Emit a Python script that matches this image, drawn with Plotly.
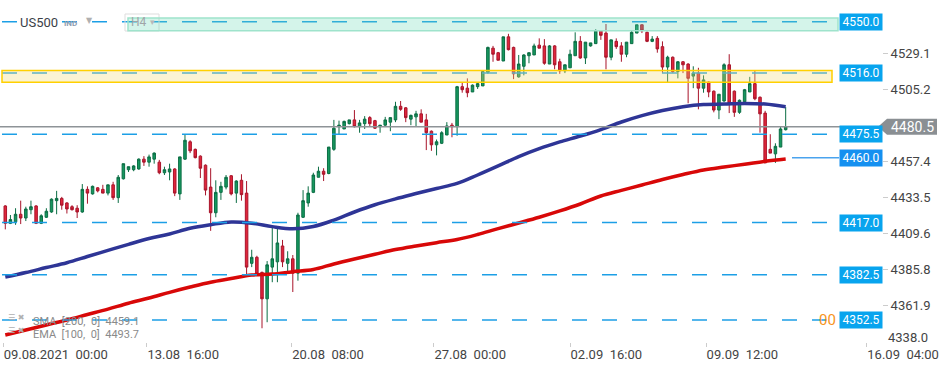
import plotly.graph_objects as go

# ---------------- data ----------------
bar_open = [4428, 4416.5, 4417.5, 4422.5, 4420, 4425.5, 4428, 4416.5, 4420.5, 4424,
            4431.5, 4433, 4430, 4427.5, 4426.5, 4424, 4439, 4436, 4440, 4439,
            4436.5, 4442, 4433.5, 4446, 4452, 4452, 4452.5, 4459, 4457, 4459,
            4457, 4450, 4450.5, 4452.5, 4436, 4459, 4470.5, 4465.5, 4461, 4455,
            4440.5, 4423.5, 4437, 4440.5, 4448, 4436.5, 4445, 4436.5, 4390, 4394,
            4384, 4366.5, 4387.5, 4391, 4401.5, 4390, 4393, 4383.5, 4420.5, 4430,
            4437, 4447, 4451, 4449.5, 4465.5, 4480.5, 4479, 4482.5, 4485, 4480.5,
            4482.5, 4486.5, 4484.5, 4480.5, 4481.5, 4483.5, 4485, 4494, 4493, 4485.5,
            4487, 4489, 4485, 4477.5, 4468.5, 4469.5, 4475, 4481.5, 4480.5, 4507,
            4506, 4503.5, 4507, 4507.5, 4516.5, 4532.5, 4529.5, 4524, 4540, 4533,
            4513.5, 4520.5, 4527.5, 4528, 4534.5, 4534, 4522, 4534, 4523.5, 4517.5,
            4519.5, 4527.5, 4537, 4526, 4534, 4535.5, 4544, 4542.5, 4526.5, 4537,
            4534, 4528.5, 4535.5, 4542.5, 4548, 4543, 4537, 4539, 4533.5, 4520,
            4526.5, 4517, 4523.5, 4522, 4514, 4516, 4506, 4510, 4504, 4491.5,
            4497.5, 4521.5, 4504, 4490, 4497, 4503.5, 4509, 4500, 4489.5, 4465.5,
            4462.5, 4467, 4478.5]
bar_high = [4428.5, 4422, 4426.5, 4431.5, 4427.5, 4431.5, 4428.5, 4422.5, 4426.5, 4433,
            4438, 4434, 4430.5, 4428.5, 4428.5, 4442.5, 4441, 4441.5, 4440.5, 4442,
            4442, 4444, 4448.5, 4456, 4454, 4455, 4459.5, 4461, 4462, 4463.5,
            4458.5, 4454, 4456, 4453, 4460.5, 4475.5, 4471.5, 4466, 4461.5, 4455.5,
            4453, 4445, 4444, 4448.5, 4448.5, 4445, 4449, 4444.5, 4399, 4395,
            4384.5, 4391.5, 4413.5, 4413.5, 4405.5, 4398, 4395.5, 4423.5, 4438.5, 4441,
            4450, 4454, 4453, 4467, 4485, 4484.5, 4484.5, 4485, 4491.5, 4485,
            4487.5, 4487.5, 4485, 4481.5, 4487, 4486.5, 4497, 4497.5, 4493.5, 4488.5,
            4491, 4492, 4489, 4478, 4472, 4477.5, 4483.5, 4483, 4507.5, 4509.5,
            4512.5, 4508.5, 4510, 4517.5, 4533.5, 4534, 4530, 4540, 4542, 4533.5,
            4528, 4528.5, 4529.5, 4535.5, 4539, 4538.5, 4534.5, 4534.5, 4525.5, 4521.5,
            4531.5, 4543, 4540.5, 4536.5, 4536, 4545, 4544, 4548.5, 4538, 4539,
            4536.5, 4536.5, 4544, 4548, 4548, 4543.5, 4540.5, 4540.5, 4537, 4527.5,
            4527, 4524, 4524, 4522.5, 4520.5, 4519.5, 4514.5, 4510.5, 4504.5, 4502,
            4522.5, 4528.5, 4504.5, 4498.5, 4505.5, 4513.5, 4517.5, 4500.5, 4491, 4475.5,
            4469.5, 4480.5, 4493.5]
bar_low = [4412.5, 4416, 4415.5, 4416, 4418, 4422.5, 4416, 4416, 4420, 4423.5,
           4422.5, 4425.5, 4423, 4425, 4420, 4423.5, 4429.5, 4435.5, 4437, 4436.5,
           4435, 4432, 4430, 4445.5, 4450.5, 4451, 4452, 4454.5, 4454, 4456,
           4449, 4448.5, 4445, 4434.5, 4432, 4458.5, 4463, 4459.5, 4446.5, 4435,
           4411.5, 4420.5, 4432, 4439, 4435, 4430, 4431.5, 4382.5, 4387.5, 4382.5,
           4347, 4351, 4377.5, 4377.5, 4387.5, 4383.5, 4371, 4378.5, 4420, 4427.5,
           4436.5, 4447, 4444.5, 4449, 4464.5, 4475, 4479, 4482, 4480, 4476.5,
           4479, 4480.5, 4479, 4476.5, 4481, 4477.5, 4483.5, 4491, 4483.5, 4481.5,
           4480.5, 4483.5, 4465, 4464.5, 4461.5, 4469, 4475, 4473.5, 4474.5, 4503,
           4500, 4503.5, 4505.5, 4507.5, 4515.5, 4523.5, 4524.5, 4524, 4531, 4512,
           4513, 4514.5, 4522.5, 4528, 4532.5, 4521.5, 4522, 4518.5, 4515.5, 4516,
           4519.5, 4527.5, 4525.5, 4522, 4533.5, 4535.5, 4538, 4518.5, 4524.5, 4532,
           4523.5, 4526.5, 4535.5, 4542.5, 4542.5, 4536.5, 4536.5, 4529.5, 4516, 4510,
           4516, 4512.5, 4516, 4496, 4506, 4492, 4503, 4500, 4490, 4485.5,
           4497, 4489.5, 4487, 4489, 4496.5, 4503.5, 4498, 4476.5, 4456.5, 4463,
           4456.5, 4467, 4478]
bar_close = [4416.5, 4419, 4422.5, 4420, 4426, 4427.5, 4416.5, 4421.5, 4424.5, 4432.5,
             4433, 4428.5, 4426, 4425.5, 4424, 4439, 4436.5, 4441, 4438, 4436.5,
             4442, 4433.5, 4447, 4456, 4454, 4454.5, 4459, 4457, 4460.5, 4463,
             4450, 4452, 4452.5, 4436.5, 4460.5, 4471.5, 4464.5, 4460, 4453, 4438.5,
             4423.5, 4437, 4441, 4447, 4436, 4444.5, 4435.5, 4387.5, 4394, 4383,
             4366.5, 4389, 4393, 4403.5, 4391, 4393, 4383.5, 4422, 4431.5, 4436.5,
             4448.5, 4451, 4449, 4467, 4479.5, 4481.5, 4484, 4485, 4480.5, 4483,
             4485.5, 4482.5, 4479.5, 4481.5, 4485, 4486.5, 4494, 4492, 4486.5, 4488,
             4489, 4483.5, 4476.5, 4468.5, 4470.5, 4476.5, 4481, 4480.5, 4507, 4505,
             4503, 4508, 4509, 4517, 4533, 4528.5, 4524.5, 4540, 4531.5, 4515.5,
             4522, 4528, 4529.5, 4534, 4532.5, 4522.5, 4534, 4521.5, 4517.5, 4521.5,
             4528.5, 4537, 4526, 4536.5, 4536, 4544, 4541, 4526.5, 4538, 4533.5,
             4528.5, 4536.5, 4543, 4548, 4544, 4537, 4538.5, 4532, 4520, 4526.5,
             4517, 4523.5, 4521.5, 4512.5, 4516, 4506, 4511.5, 4503.5, 4491.5, 4502,
             4521.5, 4496, 4490, 4498, 4505, 4509, 4499, 4489, 4456.5, 4463,
             4467.5, 4479, 4480.5]

# moving averages, read every 4th bar
ma_bar = list(range(0, 153, 4))
ema_100 = [4380.9, 4383.9, 4387.2, 4390.4, 4394.5, 4398.6, 4402.6, 4406.4, 4409.4, 4413.2,
           4415.6, 4417.4, 4416.6, 4414.3, 4412.9, 4414.4, 4418.6, 4424.0, 4428.8, 4432.7,
           4436.2, 4439.6, 4442.9, 4448.5, 4454.5, 4460.7, 4466.0, 4470.4, 4474.3, 4478.6,
           4483.6, 4487.8, 4491.2, 4493.7, 4495.2, 4495.5, 4495.9, 4495.5, 4493.7]
sma_200 = [4342.5, 4345.8, 4349.2, 4352.5, 4356.1, 4359.7, 4363.6, 4367.0, 4370.8, 4374.3,
           4377.5, 4379.9, 4382.3, 4382.9, 4384.5, 4385.9, 4389.6, 4392.9, 4396.0, 4399.1,
           4401.5, 4403.7, 4405.8, 4409.1, 4413.0, 4416.7, 4420.5, 4424.7, 4429.3, 4434.6,
           4438.3, 4441.9, 4445.5, 4448.8, 4451.8, 4453.8, 4455.6, 4457.6, 4459.1]

level_lines = [4550.0, 4516.0, 4475.5, 4417.0, 4382.5, 4352.5]
level_labels = [4550.0, 4516.0, 4475.5, 4460.0, 4417.0, 4382.5, 4352.5]
alert_level = 4460.0
current_price = 4480.5
green_zone = [4544.1, 4552.5]
yellow_zone = [4509.9, 4517.7]

y_ticks = [4338.0, 4361.9, 4385.8, 4409.6, 4433.5, 4457.4, 4505.2, 4529.1]
x_tick_bars = [-0.4, 27.6, 55.8, 83.5, 110.0, 136.5, 167.8]
x_tick_text = ["09.08.2021\u00a0\u00a000:00", "13.08\u00a0\u00a016:00", "20.08\u00a0\u00a008:00",
               "27.08\u00a0\u00a000:00", "02.09\u00a0\u00a016:00", "09.09\u00a0\u00a012:00",
               "16.09\u00a0\u00a004:00"]

# ---------------- layout helpers ----------------
W, H = 950, 367
PLOT_W = 882.0
def px(x):
    return x / PLOT_W

FONT = "Roboto"
bars = list(range(len(bar_open)))

fig = go.Figure()

fig.add_trace(go.Scatter(x=ma_bar, y=sma_200, mode="lines",
                         line=dict(color="#d80808", width=3.5, shape="spline"),
                         hoverinfo="skip", showlegend=False))
fig.add_trace(go.Scatter(x=ma_bar, y=ema_100, mode="lines",
                         line=dict(color="#2e3596", width=3.5, shape="spline"),
                         hoverinfo="skip", showlegend=False))

fig.add_trace(go.Candlestick(
    x=bars, open=bar_open, high=bar_high, low=bar_low, close=bar_close,
    increasing=dict(fillcolor="#16985f", line=dict(color="#0b6d44", width=1)),
    decreasing=dict(fillcolor="#e0253b", line=dict(color="#a8142a", width=1)),
    whiskerwidth=0, showlegend=False, hoverinfo="skip"))

shapes = []
# dashed level lines
for lv in level_lines:
    shapes.append(dict(type="line", xref="paper", yref="y", x0=px(2), x1=px(838),
                       y0=lv, y1=lv, line=dict(color="#1c9fe6", width=1.5, dash="15px,15px"),
                       layer="above"))
# current price line
shapes.append(dict(type="line", xref="paper", yref="y", x0=0, x1=px(879),
                   y0=current_price, y1=current_price,
                   line=dict(color="#8e9397", width=1.5), layer="above"))
# alert line
shapes.append(dict(type="line", xref="paper", yref="y", x0=px(792), x1=px(839),
                   y0=alert_level, y1=alert_level,
                   line=dict(color="#4aa3ee", width=1.5), layer="above"))
# H4 box
shapes.append(dict(type="rect", xref="paper", yref="paper", x0=px(125), x1=px(159),
                   y0=1 - 31 / 342, y1=1 - 14 / 342,
                   line=dict(color="#dddddd", width=1), fillcolor="rgba(0,0,0,0)", layer="above"))
# zones
shapes.append(dict(type="rect", xref="paper", yref="y", x0=px(128), x1=px(838),
                   y0=green_zone[0], y1=green_zone[1],
                   fillcolor="rgba(100,215,180,0.28)", line=dict(color="#9fe3cc", width=1.5),
                   layer="above"))
shapes.append(dict(type="rect", xref="paper", yref="y", x0=px(2), x1=px(832),
                   y0=yellow_zone[0], y1=yellow_zone[1],
                   fillcolor="rgba(240,220,120,0.33)", line=dict(color="#ffd000", width=1.5),
                   layer="above"))
# current price tag
shapes.append(dict(type="path", xref="paper", yref="y", xsizemode="pixel", ysizemode="pixel",
                   xanchor=0, yanchor=current_price,
                   path="M878,0 L887,8 L937,8 L937,-8 L887,-8 Z",
                   fillcolor="#8a8f93", line=dict(width=0), layer="above"))

annotations = []
for lv in level_labels:
    annotations.append(dict(xref="paper", yref="y", x=px(839), y=lv, xanchor="left",
                            yanchor="middle", text=f"{lv:.1f}", showarrow=False,
                            bgcolor="#1590f0" if lv == alert_level else "#08a4ee",
                            width=40, height=14, borderpad=1,
                            font=dict(family=FONT, size=12, color="white")))
annotations.append(dict(xref="paper", yref="y", x=px(912), y=current_price, xanchor="center",
                        yanchor="middle", text="4480.5", showarrow=False,
                        font=dict(family=FONT, size=14, color="white")))
annotations.append(dict(xref="paper", yref="y", x=px(838), y=4352.5, xanchor="right",
                        yanchor="middle", text="00", showarrow=False,
                        font=dict(family=FONT, size=15, color="#f7941d")))
# title
annotations.append(dict(xref="paper", yref="paper", x=px(19), y=1 - 22 / 342, xanchor="left",
                        yanchor="middle", text="US500", showarrow=False, bgcolor="white",
                        borderpad=0, font=dict(family=FONT, size=13, color="#3b4148")))
annotations.append(dict(xref="paper", yref="paper", x=px(62), y=1 - 23 / 342, xanchor="left",
                        yanchor="middle", text="<b>IND</b>", showarrow=False,
                        font=dict(family=FONT, size=8, color="#8e9cb0")))
annotations.append(dict(xref="paper", yref="paper", x=px(84), y=1 - 21 / 342, xanchor="left",
                        yanchor="middle", text="▼", showarrow=False,
                        font=dict(family="DejaVu Sans", size=8, color="#b0b0b0")))
annotations.append(dict(xref="paper", yref="paper", x=px(129), y=1 - 22.5 / 342, xanchor="left",
                        yanchor="middle", text="H4", showarrow=False,
                        font=dict(family=FONT, size=12, color="#a0a4a8")))
annotations.append(dict(xref="paper", yref="paper", x=px(148), y=1 - 22 / 342, xanchor="left",
                        yanchor="middle", text="▾", showarrow=False,
                        font=dict(family="DejaVu Sans", size=9, color="#b8b8b8")))
# indicator legend
legend_rows = [("SMA\u00a0\u00a0[200,\u00a0\u00a00]\u00a0\u00a04459.1", 321),
               ("EMA\u00a0\u00a0[100,\u00a0\u00a00]\u00a0\u00a04493.7", 334.5)]
for txt, ypix in legend_rows:
    annotations.append(dict(xref="paper", yref="paper", x=px(31), y=1 - ypix / 342,
                            xanchor="left", yanchor="middle", text=txt, showarrow=False,
                            font=dict(family=FONT, size=11, color="#8a8a8a")))
    annotations.append(dict(xref="paper", yref="paper", x=px(6), y=1 - (ypix - 4) / 342,
                            xanchor="left", yanchor="middle", text="☰\u00a0✖", showarrow=False,
                            font=dict(family="DejaVu Sans", size=8, color="#b0b0b0")))
annotations.append(dict(xref="paper", yref="paper", x=px(886), y=1 - 337 / 342,
                        xanchor="left", yanchor="middle", text="4338.0", showarrow=False,
                        font=dict(family=FONT, size=13, color="#444444")))

fig.update_layout(
    width=W, height=H,
    margin=dict(l=0, r=W - PLOT_W, t=0, b=25, pad=0),
    paper_bgcolor="white", plot_bgcolor="white",
    showlegend=False,
    font=dict(family=FONT, size=13, color="#444444"),
    shapes=shapes, annotations=annotations,
    xaxis=dict(range=[-1.03, 170.76], showgrid=False, zeroline=False, showline=False,
               rangeslider=dict(visible=False), tickmode="array",
               tickvals=x_tick_bars, ticktext=x_tick_text, ticks="outside", ticklen=4,
               tickcolor="#cccccc", ticklabelposition="outside right",
               tickfont=dict(family=FONT, size=13, color="#444444"), automargin=False),
    yaxis=dict(range=[4337.9, 4564.4], side="right", showgrid=False, zeroline=False,
               showline=False, tickmode="array", tickvals=y_ticks[1:],
               ticktext=[f"{v:.1f}" for v in y_ticks[1:]], ticks="outside", ticklen=5,
               tickcolor="#cccccc", tickfont=dict(family=FONT, size=13, color="#444444"),
               automargin=False),
    boxgap=0.3,
)

fig.write_html("out.html", config={"displayModeBar": False},
               post_script="document.body.style.margin='0px';")
